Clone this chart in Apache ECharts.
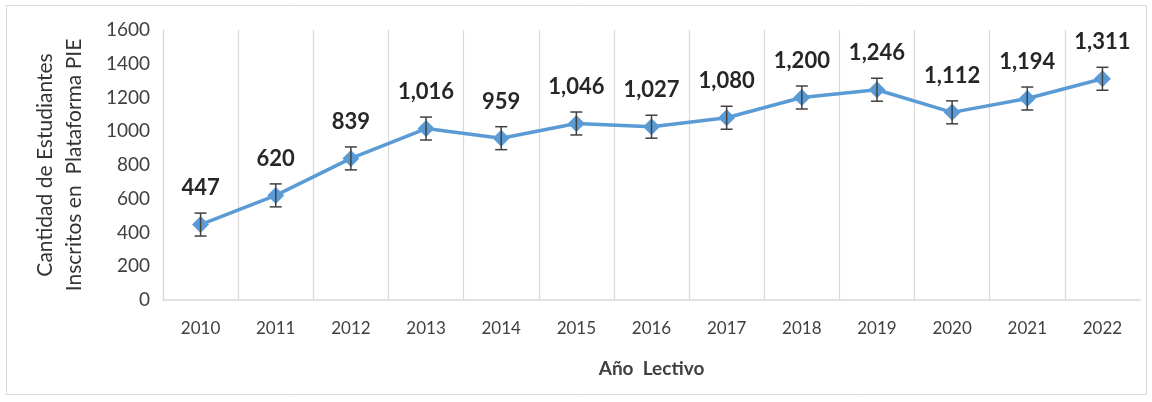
<!DOCTYPE html>
<html>
<head>
<meta charset="utf-8">
<script src="https://cdn.jsdelivr.net/npm/echarts@6/dist/echarts.min.js"></script>
<style>
html,body{margin:0;padding:0;background:#fff;}
#c{width:1152px;height:402px;}
</style>
</head>
<body>
<div id="c"></div>
<script>
var years = ['2010','2011','2012','2013','2014','2015','2016','2017','2018','2019','2020','2021','2022'];
var students = [447, 620, 839, 1016, 959, 1046, 1027, 1080, 1200, 1246, 1112, 1194, 1311];
var errors = [68, 68, 68, 68, 68, 68, 68, 68, 68, 68, 68, 68, 68];
var yTicks = { min: 0, max: 1600, interval: 200 };

var chart = echarts.init(document.getElementById('c'));
var font = 'Lato, "Open Sans", sans-serif';
var errData = students.map(function (v, i) { return [i, v - errors[i], v + errors[i]]; });

chart.setOption({
  animation: false,
  backgroundColor: '#fff',
  graphic: [{
    type: 'rect', shape: { x: 6.5, y: 5.5, width: 1140, height: 389 },
    style: { fill: 'none', stroke: '#d9d9d9', lineWidth: 1 }, z: -1
  }],
  grid: { left: 163, right: 12, top: 30, bottom: 102 },
  xAxis: {
    type: 'category', data: years, boundaryGap: true,
    name: 'Año  Lectivo', nameLocation: 'middle', nameGap: 59,
    nameTextStyle: { fontFamily: font, fontSize: 19, fontWeight: 'bold', color: '#404040' },
    axisLine: { lineStyle: { color: '#d9d9d9', width: 1.5 } },
    axisTick: { show: false },
    axisLabel: { fontFamily: font, fontSize: 17, color: '#404040', margin: 20 },
    splitLine: { show: true, showMaxLine: false, lineStyle: { color: '#d9d9d9', width: 1.2 } }
  },
  yAxis: {
    type: 'value', min: yTicks.min, max: yTicks.max, interval: yTicks.interval,
    name: 'Cantidad de Estudiantes\nInscritos en  Plataforma PIE', nameLocation: 'middle', nameGap: 74,
    nameTextStyle: { fontFamily: font, fontSize: 21, color: '#333', lineHeight: 29 },
    axisLine: { show: true, lineStyle: { color: '#d9d9d9', width: 1.2 } },
    axisTick: { show: false },
    axisLabel: { fontFamily: font, fontSize: 19, color: '#404040', margin: 13,
      formatter: function (v) { return String(v); } },
    splitLine: { show: false }
  },
  series: [{
    type: 'line', data: students,
    symbol: 'diamond', symbolSize: 17,
    lineStyle: { color: '#5b9bd5', width: 3.5 },
    itemStyle: { color: '#5b9bd5' },
    label: {
      show: true, position: 'top', distance: 17,
      fontFamily: font, fontSize: 22, fontWeight: 'bold', color: '#262626',
      formatter: function (p) { return p.value.toLocaleString('en-US'); }
    },
    z: 3
  }, {
    type: 'custom', data: errData, z: 4,
    renderItem: function (params, api) {
      var i = api.value(0);
      var lo = api.coord([i, api.value(1)]);
      var hi = api.coord([i, api.value(2)]);
      var hw = 6;
      var st = { stroke: '#404040', lineWidth: 1.5 };
      return {
        type: 'group', children: [
          { type: 'line', shape: { x1: lo[0], y1: lo[1], x2: hi[0], y2: hi[1] }, style: st },
          { type: 'line', shape: { x1: lo[0] - hw, y1: lo[1], x2: lo[0] + hw, y2: lo[1] }, style: st },
          { type: 'line', shape: { x1: hi[0] - hw, y1: hi[1], x2: hi[0] + hw, y2: hi[1] }, style: st }
        ]
      };
    }
  }]
});
</script>
</body>
</html>
